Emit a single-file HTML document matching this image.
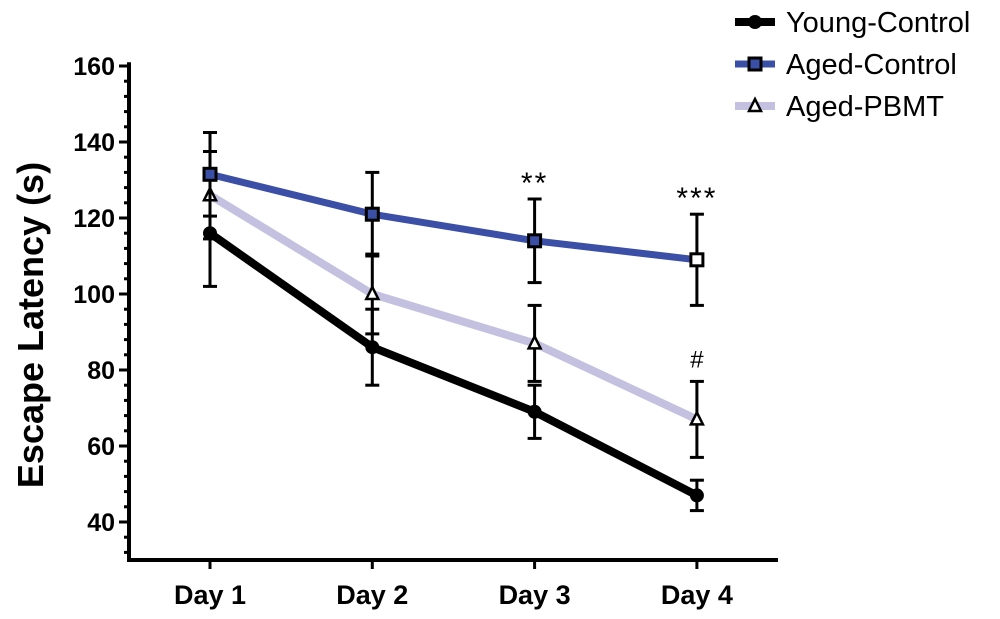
<!DOCTYPE html>
<html><head><meta charset="utf-8"><style>
body{margin:0;background:#fff;}
svg{display:block;font-family:"Liberation Sans",Arial,sans-serif;}
</style></head><body>
<svg id="chart" width="1000" height="619" viewBox="0 0 1000 619" xmlns="http://www.w3.org/2000/svg"></svg>
<script>
const days = ["Day 1","Day 2","Day 3","Day 4"];
const youngMean = [116, 86, 69, 47];
const youngErr = [14, 10, 7, 4];
const agedMean = [131.5, 121, 114, 109];
const agedErr = [11, 11, 11, 12];
const pbmtMean = [126, 100, 87, 67];
const pbmtErr = [11.5, 10.5, 10, 10];
const yTicks = [40, 60, 80, 100, 120, 140, 160];
const sigLabels = ["", "", "**", "***"];
const hashLabels = ["", "", "", "#"];

const NS="http://www.w3.org/2000/svg";
const svg=document.getElementById('chart');
function yS(v){return 522-(v-40)*3.8;}
function xS(i){return 210+i*162.3;}
function mk(tag,attrs,parent){const e=document.createElementNS(NS,tag);for(const k in attrs)e.setAttribute(k,attrs[k]);(parent||svg).appendChild(e);return e;}

let ya=mk('line',{x1:129,y1:yS(161),x2:129,y2:561,stroke:'#000','stroke-width':4});


let xa=mk('line',{x1:127,y1:560,x2:778,y2:560,stroke:'#000','stroke-width':4});


for(let v=32;v<=160;v+=4){
  const major=yTicks.includes(v);
  const t=mk('line',{x1:major?119:124,y1:yS(v),x2:129,y2:yS(v),stroke:'#000','stroke-width':3});
  
  
}
yTicks.forEach(v=>{
  const t=mk('text',{x:115,y:yS(v)+9,'text-anchor':'end','font-size':25,'font-weight':'bold'});
  t.textContent=v;
  
  
});
days.forEach((d,i)=>{
  const tk=mk('line',{x1:xS(i),y1:560,x2:xS(i),y2:569,stroke:'#000','stroke-width':3});
  
  
  const t=mk('text',{x:xS(i),y:604,'text-anchor':'middle','font-size':27,'font-weight':'bold'});
  t.textContent=d;
  
  
});
const yt=mk('text',{x:0,y:0,transform:'translate(43,325) rotate(-90)','text-anchor':'middle','font-size':36,'font-weight':'bold'});
yt.textContent='Escape Latency (s)';



function series(mean,err,color,width,marker,name){
  const g=mk('g',{});
  
  
  mean.forEach((m,i)=>{
    const x=xS(i);
    mk('line',{x1:x,y1:yS(m-err[i]),x2:x,y2:yS(m+err[i]),stroke:'#000','stroke-width':3},g);
    mk('line',{x1:x-7,y1:yS(m-err[i]),x2:x+7,y2:yS(m-err[i]),stroke:'#000','stroke-width':3},g);
    mk('line',{x1:x-7,y1:yS(m+err[i]),x2:x+7,y2:yS(m+err[i]),stroke:'#000','stroke-width':3},g);
  });
  const pts=mean.map((m,i)=>xS(i)+','+yS(m)).join(' ');
  const pl=mk('polyline',{points:pts,fill:'none',stroke:color,'stroke-width':width},g);
  
  
  mean.forEach((m,i)=>{
    const x=xS(i),y=yS(m);
    let p;
    if(marker==='circle')p=mk('circle',{cx:x,cy:y,r:7,fill:'#000'},g);
    else if(marker==='square')p=mk('rect',{x:x-6,y:y-6,width:12,height:12,fill:i===mean.length-1?'#fff':color,stroke:'#000','stroke-width':3},g);
    else p=mk('polygon',{points:`${x},${y-7} ${x-6},${y+5} ${x+6},${y+5}`,fill:'#fff',stroke:'#000','stroke-width':2.5},g);
    
    
  });
}
series(pbmtMean,pbmtErr,'#c3c0e0',8,'tri','aged-pbmt');
series(youngMean,youngErr,'#000',8,'circle','young-control');
series(agedMean,agedErr,'#3a4fa5',7,'square','aged-control');

sigLabels.forEach((s,i)=>{
  if(!s)return;
  const t=mk('text',{x:xS(i),y:yS(agedMean[i]+agedErr[i])-6,'text-anchor':'middle','font-size':30,'letter-spacing':'2'});
  t.textContent=s;
  
  
});
hashLabels.forEach((s,i)=>{
  if(!s)return;
  const t=mk('text',{x:xS(i),y:yS(pbmtMean[i]+pbmtErr[i])-14,'text-anchor':'middle','font-size':24});
  t.textContent=s;
  
  
});

const leg=[["Young-Control","#000","circle",8],["Aged-Control","#3a4fa5","square",7],["Aged-PBMT","#c3c0e0","tri",8]];
leg.forEach((l,i)=>{
  const y=22+i*42;
  const g=mk('g',{});
  
  
  mk('line',{x1:735,y1:y,x2:775,y2:y,stroke:l[1],'stroke-width':l[3]},g);
  const x=755;
  if(l[2]==='circle')mk('circle',{cx:x,cy:y,r:7,fill:'#000'},g);
  else if(l[2]==='square')mk('rect',{x:x-6,y:y-6,width:12,height:12,fill:l[1],stroke:'#000','stroke-width':3},g);
  else mk('polygon',{points:`${x},${y-7} ${x-6},${y+5} ${x+6},${y+5}`,fill:'#fff',stroke:'#000','stroke-width':2.5},g);
  const t=mk('text',{x:786,y:y+10,'font-size':29},g);
  t.textContent=l[0];
});
</script>
</body></html>
